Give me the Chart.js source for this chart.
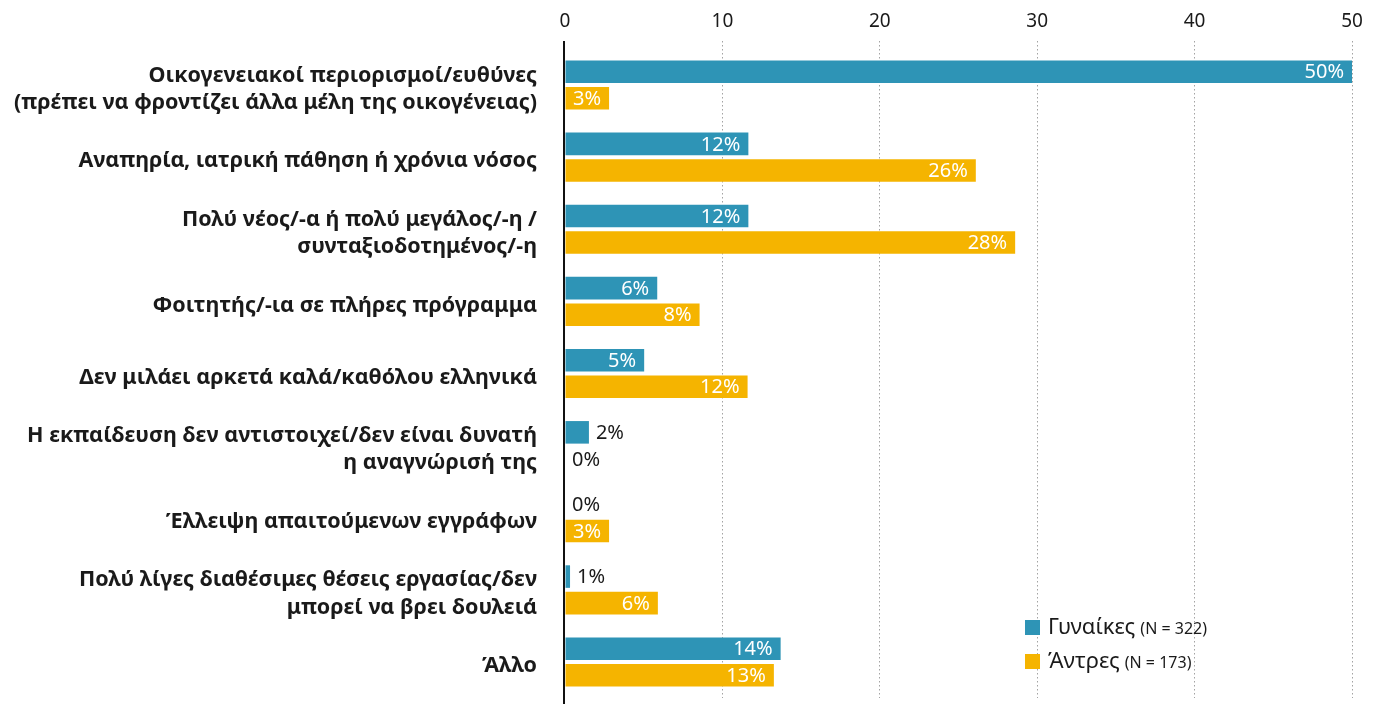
<!DOCTYPE html>
<html>
<head>
<meta charset="utf-8">
<script src="https://cdn.jsdelivr.net/npm/chart.js@4/dist/chart.umd.min.js"></script>
<style>
  body { margin: 0; background: #fff; }
  #wrap { position: relative; width: 1376px; height: 704px; }
  #legend { position: absolute; left: 1025px; top: 610px; font-family: "Noto Sans", sans-serif; color: #1a1a1a; }
  #legend div { height: 34px; display: flex; align-items: baseline; }
  #legend i { display: inline-block; width: 15px; height: 15px; margin-right: 8px; align-self: center; }
  #legend span { font-size: 22px; }
  #legend small { font-size: 16px; margin-left: 5px; }
</style>
</head>
<body>
<div id="wrap">
  <canvas id="barChart" width="1376" height="704"></canvas>
  <div id="legend"></div>
</div>
<script>
/*******  Data  ******/
var categories = [
  ["Οικογενειακοί περιορισμοί/ευθύνες", "(πρέπει να φροντίζει άλλα μέλη της οικογένειας)"],
  "Αναπηρία, ιατρική πάθηση ή χρόνια νόσος",
  ["Πολύ νέος/-α ή πολύ μεγάλος/-η /", "συνταξιοδοτημένος/-η"],
  "Φοιτητής/-ια σε πλήρες πρόγραμμα",
  "Δεν μιλάει αρκετά καλά/καθόλου ελληνικά",
  ["Η εκπαίδευση δεν αντιστοιχεί/δεν είναι δυνατή", "η αναγνώρισή της"],
  "Έλλειψη απαιτούμενων εγγράφων",
  ["Πολύ λίγες διαθέσιμες θέσεις εργασίας/δεν", "μπορεί να βρει δουλειά"],
  "Άλλο"
];
var women = [50, 11.65, 11.65, 5.86, 5.03, 1.52, 0, 0.32, 13.7];
var men = [2.8, 26.1, 28.6, 8.55, 11.6, 0, 2.8, 5.9, 13.27];
var womenLabels = ["50%", "12%", "12%", "6%", "5%", "2%", "0%", "1%", "14%"];
var menLabels = ["3%", "26%", "28%", "8%", "12%", "0%", "3%", "6%", "13%"];
var seriesNames = ["Γυναίκες", "Άντρες"];
var seriesNotes = ["(N = 322)", "(N = 173)"];
var xTicks = [0, 10, 20, 30, 40, 50];

var FONT = '"Noto Sans", sans-serif';
var TEAL = "#2e94b6";
var GOLD = "#f5b400";

/*******  Plugins  ******/
var valueLabels = {
  id: "valueLabels",
  afterDatasetsDraw: function (chart) {
    var ctx = chart.ctx;
    ctx.save();
    ctx.font = "20px " + FONT;
    ctx.textBaseline = "middle";
    chart.data.datasets.forEach(function (ds, di) {
      var meta = chart.getDatasetMeta(di);
      meta.data.forEach(function (bar, i) {
        var txt = ds.pctLabels[i];
        var w = bar.x - bar.base;
        var tw = ctx.measureText(txt).width;
        if (w > tw + 10) {
          ctx.fillStyle = "#fff";
          ctx.textAlign = "right";
          ctx.fillText(txt, bar.x - 8, bar.y + 1);
        } else {
          ctx.fillStyle = "#1a1a1a";
          ctx.textAlign = "left";
          ctx.fillText(txt, bar.x + 7, bar.y + 1);
        }
      });
    });
    ctx.restore();
  }
};

var zeroLine = {
  id: "zeroLine",
  afterDatasetsDraw: function (chart) {
    var ctx = chart.ctx;
    var x = chart.scales.x.getPixelForValue(0) - 1;
    ctx.save();
    ctx.strokeStyle = "#111";
    ctx.lineWidth = 2;
    ctx.beginPath();
    ctx.moveTo(x, 41);
    ctx.lineTo(x, chart.height);
    ctx.stroke();
    ctx.restore();
  }
};

/*******  Chart  ******/
var ctx = document.getElementById("barChart");
var barChart = new Chart(ctx, {
  type: "bar",
  data: {
    labels: categories,
    datasets: [
      { label: seriesNames[0], data: women, pctLabels: womenLabels, backgroundColor: TEAL },
      { label: seriesNames[1], data: men, pctLabels: menLabels, backgroundColor: GOLD }
    ]
  },
  options: {
    indexAxis: "y",
    responsive: false,
    animation: false,
    categoryPercentage: 0.736,
    barPercentage: 0.85,
    layout: { padding: { top: 0, right: 24, bottom: 6, left: 0 } },
    plugins: {
      legend: { display: false },
      tooltip: { enabled: false }
    },
    scales: {
      x: {
        position: "top",
        min: 0,
        max: 50,
        afterBuildTicks: function (scale) {
          scale.ticks = xTicks.map(function (v) { return { value: v }; });
        },
        afterFit: function (scale) {
          scale.height = 49;
          scale.paddingLeft = 0;
          scale.paddingRight = 0;
        },
        border: { display: false, dash: [1.5, 2.5] },
        grid: {
          color: function (c) { return c.tick && c.tick.value === 0 ? "rgba(0,0,0,0)" : "#a3a3a3"; },
          tickColor: function (c) { return c.tick && c.tick.value === 0 ? "rgba(0,0,0,0)" : "#a3a3a3"; },
          lineWidth: 1,
          tickLength: 8,
          tickBorderDash: [1.5, 2.5]
        },
        ticks: {
          color: "#1a1a1a",
          padding: 8,
          font: { family: FONT, size: 19 }
        }
      },
      y: {
        afterFit: function (scale) {
          scale.width = 565;
          scale.paddingTop = 0;
          scale.paddingBottom = 0;
        },
        border: { display: false },
        grid: { display: false },
        ticks: {
          color: "#1a1a1a",
          padding: 20,
          labelOffset: 4,
          font: { family: FONT, size: 21.5, weight: "bold", lineHeight: 1.26 }
        }
      }
    }
  },
  plugins: [valueLabels, zeroLine]
});

/*******  Legend  ******/
var legend = document.getElementById("legend");
[TEAL, GOLD].forEach(function (col, i) {
  var row = document.createElement("div");
  row.innerHTML = '<i style="background:' + col + '"></i><span>' + seriesNames[i] + '</span><small>' + seriesNotes[i] + '</small>';
  legend.appendChild(row);
});
</script>
</body>
</html>
